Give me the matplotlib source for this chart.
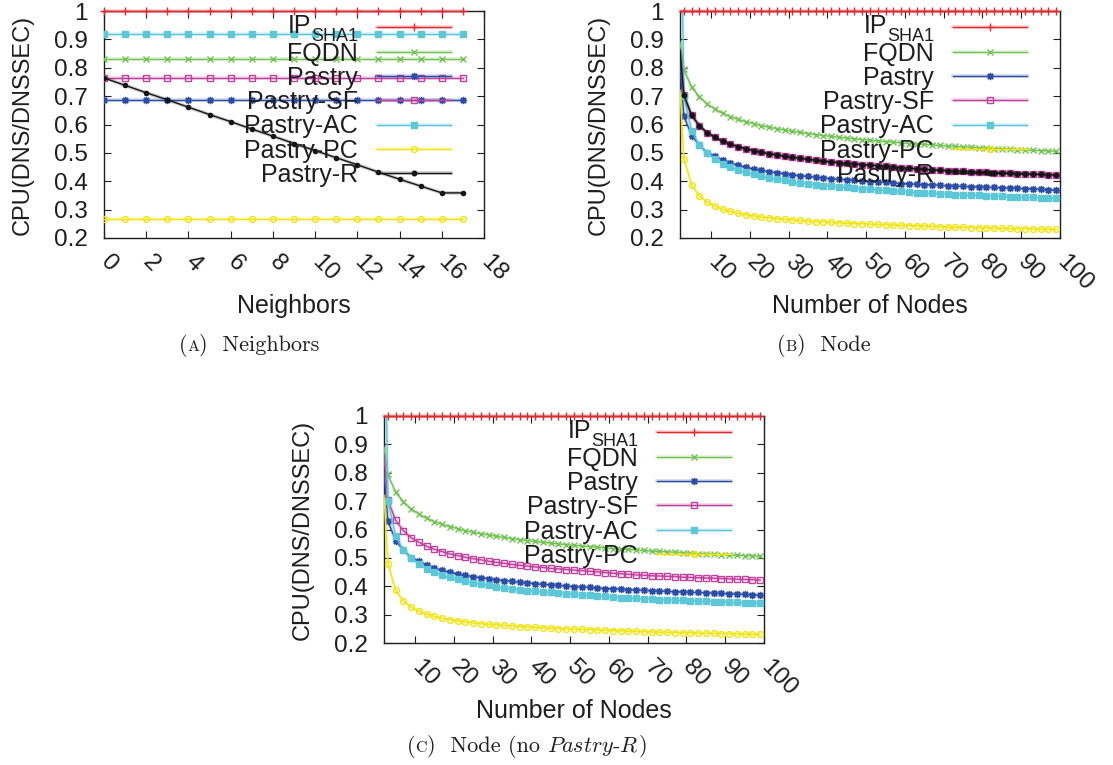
import matplotlib
matplotlib.use("Agg")
import matplotlib.pyplot as plt
import matplotlib.patheffects as pe
import matplotlib.transforms as mtransforms

plt.rcParams["font.family"] = ["Liberation Sans", "DejaVu Sans"]

W, H = 1113, 765

# ---------------- data: panel (a) neighbors ----------------
neighbors = list(range(0, 18))
ip_nb = [1.0] * 18
fqdn_nb = [0.83] * 18
pastry_nb = [0.688] * 18
sf_nb = [0.765] * 18
ac_nb = [0.92] * 18
pc_nb = [0.268] * 18
r_nb = [0.764, 0.738, 0.712, 0.687, 0.661, 0.635, 0.610, 0.584, 0.559,
        0.533, 0.508, 0.483, 0.458, 0.432, 0.407, 0.383, 0.359, 0.359]

# ---------------- data: panels (b)/(c) number of nodes ----------------
nodes = [2] + list(range(3, 100, 2))
ip_nd = [1.0] * len(nodes)
fqdn_nd = [0.89,
           0.794, 0.731, 0.698, 0.672, 0.655, 0.639, 0.628, 0.618, 0.610, 0.603,
           0.596, 0.590, 0.585, 0.581, 0.576, 0.572, 0.568, 0.564, 0.561, 0.558,
           0.555, 0.552, 0.549, 0.547, 0.544, 0.542, 0.540, 0.538, 0.535, 0.533,
           0.531, 0.530, 0.528, 0.526, 0.524, 0.523, 0.521, 0.520, 0.518, 0.517,
           0.515, 0.514, 0.513, 0.511, 0.510, 0.509, 0.508, 0.507, 0.505]
pastry_nd = [0.80,
             0.630, 0.561, 0.527, 0.501, 0.488, 0.475, 0.464, 0.456, 0.449, 0.443,
             0.438, 0.434, 0.430, 0.427, 0.423, 0.420, 0.417, 0.414, 0.412, 0.409,
             0.407, 0.405, 0.403, 0.401, 0.399, 0.397, 0.396, 0.394, 0.392, 0.391,
             0.390, 0.388, 0.387, 0.386, 0.384, 0.383, 0.382, 0.381, 0.380, 0.379,
             0.378, 0.377, 0.376, 0.375, 0.374, 0.373, 0.371, 0.370, 0.368]
sf_nd = [0.86,
         0.704, 0.632, 0.596, 0.571, 0.555, 0.541, 0.530, 0.522, 0.514, 0.508,
         0.502, 0.497, 0.493, 0.488, 0.484, 0.481, 0.477, 0.474, 0.471, 0.468,
         0.466, 0.463, 0.461, 0.459, 0.457, 0.455, 0.453, 0.451, 0.448, 0.446,
         0.444, 0.442, 0.440, 0.439, 0.437, 0.436, 0.435, 0.434, 0.432, 0.431,
         0.430, 0.429, 0.428, 0.427, 0.426, 0.425, 0.424, 0.423, 0.422]
ac_nd = [1.6,
         0.700, 0.578, 0.527, 0.498, 0.478, 0.461, 0.450, 0.438, 0.431, 0.424,
         0.417, 0.411, 0.407, 0.403, 0.396, 0.394, 0.391, 0.388, 0.385, 0.382,
         0.380, 0.378, 0.376, 0.374, 0.372, 0.370, 0.368, 0.366, 0.364, 0.362,
         0.360, 0.359, 0.357, 0.356, 0.355, 0.353, 0.352, 0.351, 0.350, 0.349,
         0.348, 0.347, 0.346, 0.345, 0.344, 0.343, 0.342, 0.341, 0.340]
pc_nd = [0.72,
         0.480, 0.387, 0.348, 0.326, 0.312, 0.301, 0.294, 0.287, 0.282, 0.278,
         0.274, 0.271, 0.268, 0.266, 0.264, 0.262, 0.260, 0.258, 0.257, 0.255,
         0.254, 0.252, 0.251, 0.250, 0.249, 0.248, 0.247, 0.246, 0.245, 0.244,
         0.243, 0.242, 0.241, 0.240, 0.239, 0.238, 0.238, 0.237, 0.236, 0.236,
         0.235, 0.234, 0.234, 0.233, 0.233, 0.232, 0.231, 0.231, 0.230]
# Pastry-R lies on top of Pastry-SF in panel (b)
r_nd = list(sf_nd)

yticks = [0.2, 0.3, 0.4, 0.5, 0.6, 0.7, 0.8, 0.9, 1.0]
ytick_labels = ["0.2", "0.3", "0.4", "0.5", "0.6", "0.7", "0.8", "0.9", "1"]
nb_ticks = list(range(0, 20, 2))
nd_ticks = list(range(10, 101, 10))

labels = ["IP", "FQDN", "Pastry", "Pastry-SF", "Pastry-AC", "Pastry-PC", "Pastry-R"]
colors = ["#e52a2f", "#72c254", "#2b4da6", "#c13f9d", "#5cc7d7", "#f2e40c", "#151515"]
markers = ["+", "x", (8, 2, 0), "s", "s", "o", "o"]
msizes = [5.5, 4.8, 5.2, 4.4, 4.3, 4.2, 3.3]
filled = [True, True, True, False, True, False, True]

FS = 18
TXT = "#1e1e1e"


def draw_series(ax, xs, ys, i, every=None, clip=True, ms=None):
    c = colors[i]
    z = 4 if i == 0 else 3
    ax.plot(xs, ys, color=c, lw=1.0, clip_on=clip, zorder=z,
            path_effects=[pe.Stroke(linewidth=2.6, foreground=c, alpha=0.22),
                          pe.Normal()])
    mx = xs if every is None else xs[every]
    my = ys if every is None else ys[every]
    ax.plot(mx, my, ls="none", marker=markers[i], ms=ms or msizes[i], mew=1.0,
            mec=c, mfc=c if filled[i] else "none", clip_on=clip, zorder=z)


def draw_legend(ax, n):
    fig = ax.figure
    r = fig.canvas.get_renderer()
    for i in range(n):
        y = 1 - (16.3 + 24.3 * i) / 227.0
        draw_series(ax, [0.718, 0.912], [y, y], i, every=slice(0, 0))
        ax.lines[-2].set_transform(ax.transAxes)
        ax.lines[-2].set_clip_on(False)
        ax.plot([0.815], [y], transform=ax.transAxes, clip_on=False, ls="none",
                marker=markers[i], ms=msizes[i], mew=1.0, mec=colors[i],
                mfc=colors[i] if filled[i] else "none", zorder=5)
        if i == 0:
            # IP with subscript SHA1
            tr_sub = mtransforms.offset_copy(ax.transAxes, fig=fig,
                                             y=-9.6, units="points")
            sub = ax.text(0.669, y, "SHA1", transform=tr_sub, ha="right",
                          va="baseline", fontsize=FS * 0.72, color=TXT)
            wpt = sub.get_window_extent(r).width * 72 / fig.dpi
            tr_ip = mtransforms.offset_copy(ax.transAxes, fig=fig, x=-wpt - 0.3,
                                            y=-4.3, units="points")
            ax.text(0.669, y, "IP", transform=tr_ip, ha="right", va="baseline",
                    fontsize=FS, color=TXT)
        else:
            tr = mtransforms.offset_copy(ax.transAxes, fig=fig, y=-0.36 * FS,
                                         units="points")
            ax.text(0.669, y, labels[i], transform=tr, ha="right", va="baseline",
                    fontsize=FS, color=TXT, zorder=6)


def setup(ax, xlabel):
    ax.set_ylim(0.2, 1.0)
    ax.set_yticks(yticks)
    ax.set_yticklabels(ytick_labels)
    ax.tick_params(axis="both", direction="in", length=5, width=0.8,
                   top=True, right=True, labelsize=17.5, colors=TXT)
    ax.tick_params(axis="y", pad=11.5)
    ax.tick_params(axis="x", pad=15)
    for lab in ax.get_xticklabels():
        lab.set_rotation(-45)
        lab.set_ha("left")
        lab.set_va("center")
        lab.set_rotation_mode("anchor")
    for s in ax.spines.values():
        s.set_linewidth(1.0)
        s.set_color(TXT)
    ax.set_xlabel(xlabel, fontsize=FS, color=TXT, va="center")
    ax.xaxis.set_label_coords(0.5, -0.3)
    ax.set_ylabel("CPU(DNS/DNSSEC)", fontsize=17, color=TXT, va="center")
    ax.yaxis.set_label_coords(-0.213, 0.5)


fig = plt.figure(figsize=(W / 100, H / 100), dpi=100)

# panel (a)
ax_a = fig.add_axes([104 / W, 1 - 238 / H, 380 / W, 227 / H])
series_a = [ip_nb, fqdn_nb, pastry_nb, sf_nb, ac_nb, pc_nb, r_nb]
for i, ys in enumerate(series_a):
    draw_series(ax_a, neighbors, ys, i, clip=(i != 0), ms=3.0 if i == 6 else None)
ax_a.set_xlim(0, 18)
ax_a.set_xticks(nb_ticks)
ax_a.set_xticklabels([str(t) for t in nb_ticks])
setup(ax_a, "Neighbors")
draw_legend(ax_a, 7)

# panel (b)
ax_b = fig.add_axes([680 / W, 1 - 238 / H, 380 / W, 227 / H])
series_b = [ip_nd, fqdn_nd, pastry_nd, sf_nd, ac_nd, pc_nd, r_nd]
for i, ys in enumerate(series_b):
    draw_series(ax_b, nodes, ys, i, every=slice(1, None), clip=(i != 0))
ax_b.set_xlim(2, 100)
ax_b.set_xticks(nd_ticks)
ax_b.set_xticklabels([str(t) for t in nd_ticks])
setup(ax_b, "Number of Nodes")
draw_legend(ax_b, 7)

# panel (c)
ax_c = fig.add_axes([384 / W, 1 - 643 / H, 380 / W, 227 / H])
series_c = [ip_nd, fqdn_nd, pastry_nd, sf_nd, ac_nd, pc_nd]
for i, ys in enumerate(series_c):
    draw_series(ax_c, nodes, ys, i, every=slice(1, None), clip=(i != 0))
ax_c.set_xlim(2, 100)
ax_c.set_xticks(nd_ticks)
ax_c.set_xticklabels([str(t) for t in nd_ticks])
setup(ax_c, "Number of Nodes")
draw_legend(ax_c, 6)

# captions (serif, small caps letter)
renderer = fig.canvas.get_renderer()


def caption(xc, ybase, parts):
    objs = []
    for s, size in parts:
        t = fig.text(0, 1 - ybase / H, s, fontsize=size, family="cmr10",
                     math_fontfamily="cm", ha="left", va="baseline", color=TXT)
        objs.append(t)
    widths = [t.get_window_extent(renderer).width for t in objs]
    x = xc - sum(widths) / 2
    for t, w in zip(objs, widths):
        t.set_x(x / W)
        x += w


caption(249, 351, [("(", 16), ("A", 11.5), (")  Neighbors", 16)])
caption(824, 351, [("(", 16), ("B", 11.5), (")  Node", 16)])
caption(527, 752, [("(", 16), ("C", 11.5), (")  Node (no ", 16),
                   (r"$Pastry$-$R$", 16), (")", 16)])

fig.savefig("out.png", dpi=100)
